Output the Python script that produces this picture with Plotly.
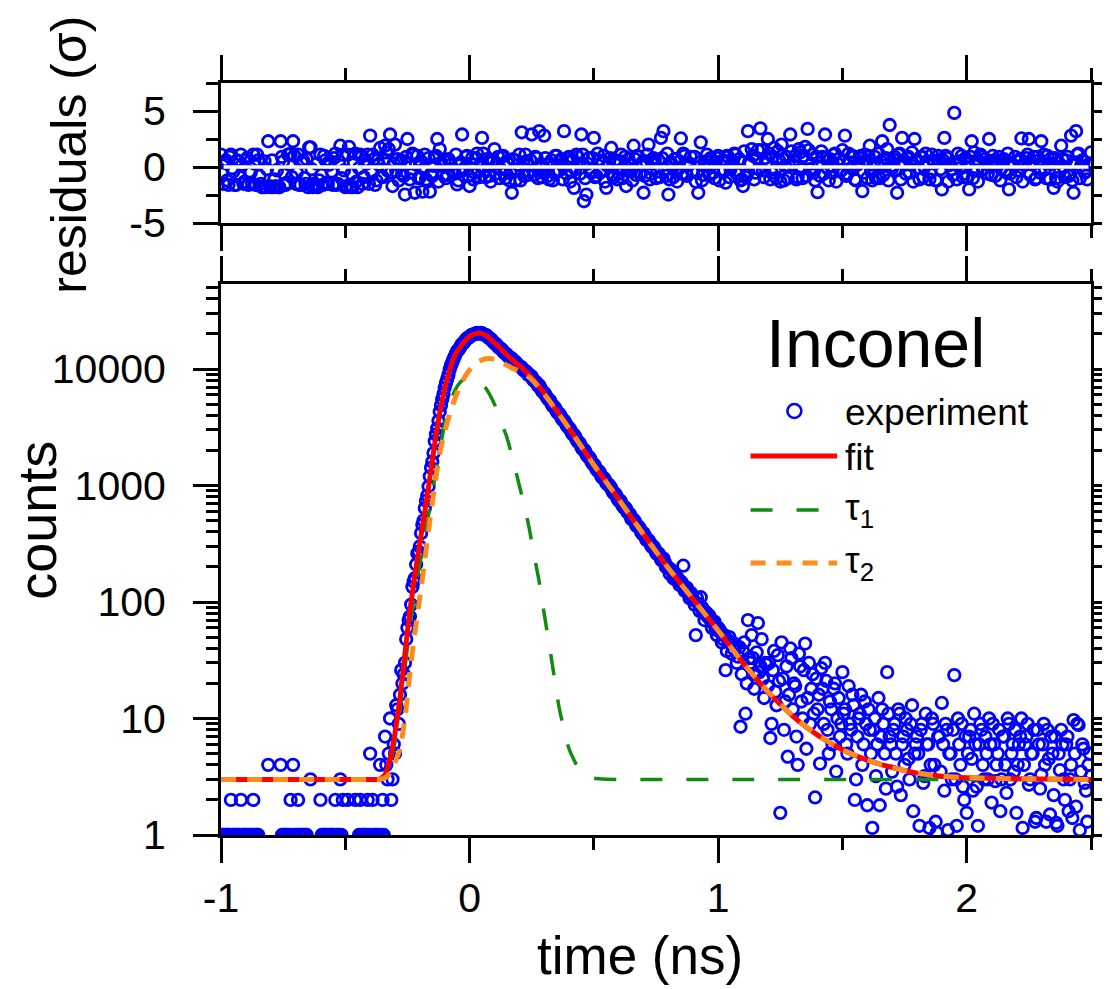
import plotly.graph_objects as go

# ---- data ----
# channels on the 10 ps grid
time_ns = [
    -1.00, -0.99, -0.98, -0.97, -0.96, -0.95, -0.94, -0.93, -0.92, -0.91,
    -0.90, -0.89, -0.88, -0.87, -0.86, -0.85, -0.84, -0.83, -0.82, -0.81,
    -0.80, -0.79, -0.78, -0.77, -0.76, -0.75, -0.74, -0.73, -0.72, -0.71,
    -0.70, -0.69, -0.68, -0.67, -0.66, -0.65, -0.64, -0.63, -0.62, -0.61,
    -0.60, -0.59, -0.58, -0.57, -0.56, -0.55, -0.54, -0.53, -0.52, -0.51,
    -0.50, -0.49, -0.48, -0.47, -0.46, -0.45, -0.44, -0.43, -0.42, -0.41,
    -0.40, -0.39, -0.38, -0.37, -0.36, -0.35, -0.34, -0.33, -0.32, -0.31,
    -0.30, -0.29, -0.28, -0.27, -0.26, -0.25, -0.24, -0.23, -0.22, -0.21,
    -0.20, -0.19, -0.18, -0.17, -0.16, -0.15, -0.14, -0.13, -0.12, -0.11,
    -0.10, -0.09, -0.08, -0.07, -0.06, -0.05, -0.04, -0.03, -0.02, -0.01,
    0.00, 0.01, 0.02, 0.03, 0.04, 0.05, 0.06, 0.07, 0.08, 0.09,
    0.10, 0.11, 0.12, 0.13, 0.14, 0.15, 0.16, 0.17, 0.18, 0.19,
    0.20, 0.21, 0.22, 0.23, 0.24, 0.25, 0.26, 0.27, 0.28, 0.29,
    0.30, 0.31, 0.32, 0.33, 0.34, 0.35, 0.36, 0.37, 0.38, 0.39,
    0.40, 0.41, 0.42, 0.43, 0.44, 0.45, 0.46, 0.47, 0.48, 0.49,
    0.50, 0.51, 0.52, 0.53, 0.54, 0.55, 0.56, 0.57, 0.58, 0.59,
    0.60, 0.61, 0.62, 0.63, 0.64, 0.65, 0.66, 0.67, 0.68, 0.69,
    0.70, 0.71, 0.72, 0.73, 0.74, 0.75, 0.76, 0.77, 0.78, 0.79,
    0.80, 0.81, 0.82, 0.83, 0.84, 0.85, 0.86, 0.87, 0.88, 0.89,
    0.90, 0.91, 0.92, 0.93, 0.94, 0.95, 0.96, 0.97, 0.98, 0.99,
    1.00, 1.01, 1.02, 1.03, 1.04, 1.05, 1.06, 1.07, 1.08, 1.09,
    1.10, 1.11, 1.12, 1.13, 1.14, 1.15, 1.16, 1.17, 1.18, 1.19,
    1.20, 1.21, 1.22, 1.23, 1.24, 1.25, 1.26, 1.27, 1.28, 1.29,
    1.30, 1.31, 1.32, 1.33, 1.34, 1.35, 1.36, 1.37, 1.38, 1.39,
    1.40, 1.41, 1.42, 1.43, 1.44, 1.45, 1.46, 1.47, 1.48, 1.49,
    1.50, 1.51, 1.52, 1.53, 1.54, 1.55, 1.56, 1.57, 1.58, 1.59,
    1.60, 1.61, 1.62, 1.63, 1.64, 1.65, 1.66, 1.67, 1.68, 1.69,
    1.70, 1.71, 1.72, 1.73, 1.74, 1.75, 1.76, 1.77, 1.78, 1.79,
    1.80, 1.81, 1.82, 1.83, 1.84, 1.85, 1.86, 1.87, 1.88, 1.89,
    1.90, 1.91, 1.92, 1.93, 1.94, 1.95, 1.96, 1.97, 1.98, 1.99,
    2.00, 2.01, 2.02, 2.03, 2.04, 2.05, 2.06, 2.07, 2.08, 2.09,
    2.10, 2.11, 2.12, 2.13, 2.14, 2.15, 2.16, 2.17, 2.18, 2.19,
    2.20, 2.21, 2.22, 2.23, 2.24, 2.25, 2.26, 2.27, 2.28, 2.29,
    2.30, 2.31, 2.32, 2.33, 2.34, 2.35, 2.36, 2.37, 2.38, 2.39,
    2.40, 2.41, 2.42, 2.43, 2.44, 2.45, 2.46, 2.47, 2.48, 2.49,
    2.50,
]

counts = [
    1, 1, 1, 1, 2, 1, 1, 1, 2, 1,
    1, 1, 1, 2, 1, 1, 0, 0, 0, 4,
    0, 0, 0, 0, 4, 1, 1, 1, 2, 4,
    1, 2, 1, 1, 1, 0, 3, 0, 0, 0,
    2, 1, 1, 1, 1, 1, 2, 1, 3, 2,
    0, 2, 0, 0, 2, 0, 2, 1, 1, 2,
    5, 2, 1, 1, 4, 2, 7, 3, 10, 3,
    5, 12, 16, 20, 30, 60, 75, 135, 160, 260,
    300, 460, 640, 820, 1200, 1600, 2400, 3100, 4300, 5500,
    6900, 8200, 9900, 11300, 12800, 14300, 15100, 16500, 17200, 18400,
    18900, 19700, 19900, 20400, 20100, 20300, 19700, 19300, 18300, 17700,
    16700, 16100, 15200, 14700, 13800, 13300, 12600, 12300, 11500, 11200,
    10600, 10300, 9700, 9400, 8800, 8600, 7900, 7600, 7250, 6550,
    6250, 5750, 5450, 5000, 4750, 4350, 4150, 3800, 3620, 3300,
    3130, 2860, 2720, 2470, 2350, 2120, 2040, 1840, 1760, 1600,
    1520, 1380, 1330, 1200, 1160, 1050, 1020, 950, 860, 830,
    740, 720, 650, 630, 580, 520, 510, 455, 445, 400,
    390, 345, 340, 305, 300, 265, 262, 232, 236, 200,
    198, 190, 160, 165, 150, 150, 205, 128, 118, 120,
    104, 52, 97, 110, 80, 82, 74, 70, 66, 58,
    60, 55, 48, 26, 47, 44, 40, 42, 34, 8.5,
    38, 11, 70, 30, 33, 24, 66, 28, 22, 30,
    19, 6.8, 26, 17, 35, 1.55, 22, 14, 4.7, 40,
    12, 19, 4.0, 28, 10, 44, 15, 9, 24, 2.1,
    12, 4.1, 18, 30, 8, 14, 6, 20, 10, 7,
    25, 12, 5, 9, 16, 2, 7, 11, 4, 14,
    1.8, 8, 1.15, 10, 6, 1.8, 12, 5, 25, 7,
    3.5, 9, 2.6, 11, 6, 4, 8, 3, 13, 5,
    7, 1.2, 9, 3.2, 6, 1.15, 10, 4, 1.05, 7,
    13.6, 2.4, 8, 5, 3, 23.6, 1.2, 6, 9, 2,
    1.55, 7, 4.5, 11, 2.6, 6, 8, 3, 5, 10,
    1.9, 6, 4, 8, 3, 7, 2.3, 9, 5, 3.5,
    1.55, 6, 10, 4, 7, 2.7, 5, 8, 1.4, 6,
    3.3, 9, 1.3, 4.5, 7, 2.2, 1.27, 5, 8, 3,
    6, 1.6, 4, 9.7, 1.75, 8.8, 3.5, 5.5, 2.4, 4,
    3.2,
]

residuals = [
    1.1, -1.5, 0.6, -1.6, 1.1, -0.4, -1.6, 0.5, 1.1, -1.5,
    0.6, -1.6, -0.5, 1.1, -1.6, 0.6, -1.5, -1.8, -1.8, 2.3,
    -1.8, -1.8, -1.7, -1.8, 2.3, 0.5, -1.6, 1.1, 1.2, 2.3,
    -1.5, 1.1, -1.6, 0.6, -1.5, -1.8, 1.75, -1.8, -1.7, -1.8,
    1.1, -1.6, 0.6, -1.5, 0.5, -1.6, 1.2, -1.5, 1.9, 1.1,
    -1.8, 1.1, -1.8, -1.8, 1.2, -1.8, 1.1, -1.5, 0.6, 1.1,
    2.8, 1.1, -1.6, 0.6, 1.7, -0.9, 1.9, -0.3, 2.9, -1.7,
    2.0, 0.7, 0.4, -0.6, -2.46, 2.5, -1.1, 1.2, -2.3, 1.0,
    -0.9, -2.2, 1.1, -1.3, -2.2, -0.8, 0.9, 2.5, 1.6, 0.1,
    0.6, -0.7, 0.5, -0.3, -0.6, -1.56, -0.4, 2.9, -0.1, 1.0,
    -1.7, 0.8, -0.5, 1.2, -0.9, 2.6, -0.3, 0.7, -0.8, 0.4,
    1.6, 0.3, -1.0, 0.9, -0.6, 0.5, -1.2, -2.3, 0.6, -0.2,
    1.1, 3.1, -0.8, 0.5, -0.4, 2.9, -0.7, 0.8, 3.2, -0.9,
    2.8, 0.2, -1.1, 0.6, -0.5, 1.0, -0.3, 0.7, 3.2, -0.6,
    0.9, -0.4, -1.86, 1.1, 0.3, 2.9, -3.06, -2.46, 0.8, -0.5,
    2.6, -0.8, 0.6, -0.3, 1.0, -1.86, 0.4, 1.7, -0.9, 0.5,
    -0.6, 1.1, -0.2, -1.7, 0.7, -0.4, 1.9, -0.7, 0.9, 0.1,
    -2.3, 0.5, 2.0, -0.6, 0.8, -1.0, 0.6, 2.6, 3.2, -0.8,
    -2.46, 0.4, -0.9, 0.7, -0.2, 2.55, 1.2, -0.6, 0.3, 0.9,
    -0.4, -1.3, -2.3, 2.2, -0.7, 0.5, 0.1, 0.8, -0.5, 0.4,
    1.0, -0.3, 0.6, -1.4, 0.9, -0.2, 0.5, 1.1, -0.6, -1.2,
    -1.7, -0.9, 3.2, 0.3, 1.0, -0.5, 1.5, 3.45, -0.3, 0.8,
    2.5, -1.1, 0.9, -0.2, 1.4, -1.3, 0.7, 0.1, -1.0, 2.9,
    0.2, 1.0, -0.9, 1.3, -1.0, 1.8, 3.4, -0.2, 1.1, -1.2,
    -2.25, -0.8, 0.9, 2.9, -0.1, 0.7, -0.5, 1.2, 0.3, -0.4,
    1.5, 2.8, -0.6, 0.4, 1.0, -1.1, 0.2, 0.8, -2.16, 1.1,
    -1.0, 1.9, -1.2, 0.9, 0.3, -1.0, 2.3, 0.1, 1.6, 3.75,
    -0.1, 0.9, -2.3, 1.2, 2.6, 0.2, 0.8, -0.5, 1.3, 2.5,
    0.6, -1.1, 0.9, 0.0, 0.5, -1.1, 1.1, 0.3, -1.2, 0.6,
    -2.0, 2.6, 0.8, 0.2, -0.2, 4.83, -1.1, 0.5, 1.0, -0.6,
    -0.9, -2.0, 2.3, 1.3, -0.3, 0.5, 0.9, -0.1, 0.4, 2.5,
    -0.7, 0.6, 0.2, 0.9, -0.1, 0.7, -0.5, -2.0, 0.3, 0.1,
    -0.9, 0.5, 2.55, 0.2, 0.8, 2.5, 0.4, 0.9, -1.0, 0.6,
    2.3, 1.1, -1.0, 0.3, 0.8, -1.86, -1.0, 0.4, 1.9, 0.0,
    0.6, -0.8, 2.8, -2.3, 3.2, 1.2, 0.1, 0.5, -0.4, 0.2,
    1.3,
]

# the channels in between (5 ps offset)
time_half = [
    -0.995, -0.985, -0.975, -0.965, -0.955, -0.945, -0.935, -0.925, -0.915, -0.905,
    -0.895, -0.885, -0.875, -0.865, -0.855, -0.845, -0.835, -0.825, -0.815, -0.805,
    -0.795, -0.785, -0.775, -0.765, -0.755, -0.745, -0.735, -0.725, -0.715, -0.705,
    -0.695, -0.685, -0.675, -0.665, -0.655, -0.645, -0.635, -0.625, -0.615, -0.605,
    -0.595, -0.585, -0.575, -0.565, -0.555, -0.545, -0.535, -0.525, -0.515, -0.505,
    -0.495, -0.485, -0.475, -0.465, -0.455, -0.445, -0.435, -0.425, -0.415, -0.405,
    -0.395, -0.385, -0.375, -0.365, -0.355, -0.345, -0.335, -0.325, -0.315, -0.305,
    -0.295, -0.285, -0.275, -0.265, -0.255, -0.245, -0.235, -0.225, -0.215, -0.205,
    -0.195, -0.185, -0.175, -0.165, -0.155, -0.145, -0.135, -0.125, -0.115, -0.105,
    -0.095, -0.085, -0.075, -0.065, -0.055, -0.045, -0.035, -0.025, -0.015, -0.005,
    0.005, 0.015, 0.025, 0.035, 0.045, 0.055, 0.065, 0.075, 0.085, 0.095,
    0.105, 0.115, 0.125, 0.135, 0.145, 0.155, 0.165, 0.175, 0.185, 0.195,
    0.205, 0.215, 0.225, 0.235, 0.245, 0.255, 0.265, 0.275, 0.285, 0.295,
    0.305, 0.315, 0.325, 0.335, 0.345, 0.355, 0.365, 0.375, 0.385, 0.395,
    0.405, 0.415, 0.425, 0.435, 0.445, 0.455, 0.465, 0.475, 0.485, 0.495,
    0.505, 0.515, 0.525, 0.535, 0.545, 0.555, 0.565, 0.575, 0.585, 0.595,
    0.605, 0.615, 0.625, 0.635, 0.645, 0.655, 0.665, 0.675, 0.685, 0.695,
    0.705, 0.715, 0.725, 0.735, 0.745, 0.755, 0.765, 0.775, 0.785, 0.795,
    0.805, 0.815, 0.825, 0.835, 0.845, 0.855, 0.865, 0.875, 0.885, 0.895,
    0.905, 0.915, 0.925, 0.935, 0.945, 0.955, 0.965, 0.975, 0.985, 0.995,
    1.005, 1.015, 1.025, 1.035, 1.045, 1.055, 1.065, 1.075, 1.085, 1.095,
    1.105, 1.115, 1.125, 1.135, 1.145, 1.155, 1.165, 1.175, 1.185, 1.195,
    1.205, 1.215, 1.225, 1.235, 1.245, 1.255, 1.265, 1.275, 1.285, 1.295,
    1.305, 1.315, 1.325, 1.335, 1.345, 1.355, 1.365, 1.375, 1.385, 1.395,
    1.405, 1.415, 1.425, 1.435, 1.445, 1.455, 1.465, 1.475, 1.485, 1.495,
    1.505, 1.515, 1.525, 1.535, 1.545, 1.555, 1.565, 1.575, 1.585, 1.595,
    1.605, 1.615, 1.625, 1.635, 1.645, 1.655, 1.665, 1.675, 1.685, 1.695,
    1.705, 1.715, 1.725, 1.735, 1.745, 1.755, 1.765, 1.775, 1.785, 1.795,
    1.805, 1.815, 1.825, 1.835, 1.845, 1.855, 1.865, 1.875, 1.885, 1.895,
    1.905, 1.915, 1.925, 1.935, 1.945, 1.955, 1.965, 1.975, 1.985, 1.995,
    2.005, 2.015, 2.025, 2.035, 2.045, 2.055, 2.065, 2.075, 2.085, 2.095,
    2.105, 2.115, 2.125, 2.135, 2.145, 2.155, 2.165, 2.175, 2.185, 2.195,
    2.205, 2.215, 2.225, 2.235, 2.245, 2.255, 2.265, 2.275, 2.285, 2.295,
    2.305, 2.315, 2.325, 2.335, 2.345, 2.355, 2.365, 2.375, 2.385, 2.395,
    2.405, 2.415, 2.425, 2.435, 2.445, 2.455, 2.465, 2.475, 2.485, 2.495,
]

counts_half = [
    1, 1, 1, 1, 1, 1, 1, 1, 1, 1,
    1, 1, 1, 1, 1, 0, 0, 0, 0, 0,
    0, 0, 0, 0, 1, 1, 1, 1, 1, 1,
    1, 1, 1, 1, 1, 0, 0, 0, 0, 0,
    1, 1, 1, 1, 1, 1, 1, 1, 1, 0,
    0, 0, 0, 0, 0, 1, 1, 1, 1, 1,
    1, 1, 1, 1, 1, 1, 4, 5, 2, 6,
    13, 9, 26, 24, 48, 70, 95, 150, 210, 270,
    390, 500, 740, 980, 1420, 1900, 2750, 3600, 4900, 6100,
    7600, 8900, 10700, 12100, 13600, 14600, 15900, 16700, 17900, 18500,
    19400, 19700, 20200, 20200, 20400, 19900, 19600, 18700, 18100, 17100,
    16500, 15500, 15000, 14100, 13600, 12800, 12500, 11800, 11500, 10800,
    10500, 9900, 9600, 9000, 8800, 8150, 7800, 7200, 6900, 6350,
    6050, 5550, 5300, 4800, 4600, 4200, 4000, 3650, 3480, 3180,
    3020, 2760, 2630, 2380, 2270, 2050, 1970, 1780, 1700, 1540,
    1470, 1340, 1280, 1160, 1120, 1020, 980, 890, 850, 770,
    745, 675, 650, 590, 565, 510, 492, 445, 428, 385,
    372, 338, 326, 296, 286, 258, 250, 226, 219, 198,
    175, 182, 158, 162, 140, 145, 125, 132, 108, 112,
    95, 108, 84, 90, 70, 80, 76, 60, 68, 52,
    58, 45, 52, 38, 50, 36, 44, 30, 41, 24,
    45, 20, 33, 52, 18, 37, 25, 48, 15, 29,
    30, 9, 38, 13, 21, 45, 8, 28, 16, 33,
    20, 7, 36, 14, 26, 5.5, 30, 18, 11, 22,
    16, 27, 9, 21, 5, 12, 18, 3.5, 15, 9,
    11, 6, 19, 8, 13, 3, 10, 16, 6, 9,
    12, 5, 8, 3.2, 15, 7, 9, 2.5, 11, 6,
    8, 5, 12, 2.2, 7, 10, 4.5, 9, 1.6, 6,
    5, 8, 2.8, 11, 6, 4, 9, 1.3, 7, 3.5,
    6, 9, 1.1, 5, 8, 3, 10, 4, 2.6, 7,
    5, 8, 2.4, 6, 1.2, 9, 4, 7, 3, 6,
    9, 2.9, 5, 1.6, 7, 4, 10, 3, 6, 8,
    4, 7, 1.15, 6, 9, 3, 5, 1.3, 8, 2.5,
    6, 4, 8, 1.5, 5, 7, 1.2, 3.6, 6, 2,
    7, 3, 1.4, 5, 9, 1.1, 6, 2.8, 1.3, 5,
]

residuals_half = [
    -0.6, 0.4, -1.2, 0.9, -0.1, -1.6, 0.6, -0.9, 0.2, -1.3,
    0.8, -0.4, -1.5, 0.3, 1.1, -0.8, -1.8, 0.5, -0.2, -1.7,
    0.6, -1.1, -0.3, -1.8, 0.9, -0.6, -1.4, 0.2, -0.9, 1.0,
    -0.5, -1.6, 0.4, -1.0, 0.7, 1.75, -0.2, -1.5, 0.3, -1.2,
    -0.7, 1.0, -1.4, 0.2, -0.4, 0.8, -1.6, 0.5, -1.0, -0.3,
    -1.7, 1.8, -0.6, 0.4, -1.3, -0.1, 0.9, -0.9, 0.3, -1.5,
    -0.4, 0.7, -1.2, 0.2, -0.8, 0.6, 1.3, 1.6, -0.5, 0.3,
    -0.4, -1.2, 0.6, -0.8, 0.9, 0.3, -0.5, 1.1, 0.2, -1.0,
    0.5, -0.2, -1.1, 0.8, -0.6, 0.1, 1.0, -1.3, 0.4, -0.7,
    -1.0, 0.7, 0.2, -0.5, 1.1, -1.2, 0.4, -0.3, 0.9, -0.8,
    0.3, -1.1, 0.8, -0.4, 0.1, 1.2, -0.9, 0.5, -1.3, 0.6,
    -0.6, 0.9, -0.2, 1.0, -1.0, 0.3, -0.5, 0.7, -1.2, 0.2,
    -1.2, 0.4, 1.1, -0.7, 0.6, -0.3, 0.9, -1.0, 0.2, -0.5,
    0.8, -0.8, 0.3, -1.2, 1.0, -0.4, 0.5, -1.1, 0.1, 0.7,
    -1.3, 0.6, -0.2, 0.9, -0.6, 1.1, -1.0, 0.3, -0.4, 0.8,
    -0.9, 1.2, -0.5, 0.4, -1.3, 0.1, 0.8, -0.7, 0.6, -1.1,
    0.5, -1.0, 0.9, -0.3, 0.2, -1.2, 0.7, 1.0, -0.6, 0.4,
    -0.8, 1.1, -1.1, 0.3, 0.6, -0.4, -0.9, 0.8, -0.2, 1.2,
    -1.1, 0.2, 0.7, -1.3, 0.5, -0.6, 1.0, -0.8, 0.3, -0.4,
    0.9, -0.5, 0.4, -1.2, 0.1, 1.1, -0.7, 0.6, -1.0, 0.8,
    -1.2, 0.5, -0.3, 1.0, -0.9, 0.2, 1.2, -0.6, 0.7, -1.1,
    1.4, -0.7, 0.4, 1.6, -1.1, 0.8, -0.2, 1.5, -0.9, 0.3,
    1.2, -0.5, 1.7, -1.0, 0.6, 2.0, -1.2, 0.9, 0.1, 1.4,
    0.6, -1.1, 1.6, -0.2, 1.0, -0.8, 1.5, 0.3, -0.5, 0.9,
    0.4, 1.4, -0.6, 0.8, -1.2, 0.1, 1.1, -1.3, 0.7, -0.3,
    0.5, -0.8, 1.2, -0.1, 0.9, -1.2, 0.3, 1.0, -0.5, 0.6,
    1.0, -0.4, 0.2, -1.0, 1.2, 0.5, -0.7, 0.8, -1.2, 0.1,
    0.7, -0.3, 1.1, -1.1, 0.4, -0.6, 0.9, 0.2, -1.3, 0.5,
    -0.1, 0.9, -0.9, 1.2, 0.3, -0.5, 0.6, -1.2, 1.0, -0.2,
    0.6, 1.0, -1.3, 0.2, -0.7, 0.4, 1.2, -0.1, -0.9, 0.8,
    0.3, 0.9, -1.0, 0.5, -1.3, 1.1, -0.2, 0.7, -0.6, 0.1,
    1.0, -0.8, 0.4, -1.2, 0.6, -0.3, 1.2, -0.6, 0.2, 0.9,
    -0.3, 0.7, -1.3, 0.4, 1.1, -0.7, 0.2, -1.1, 0.9, -0.5,
    0.5, -0.2, 1.0, -1.1, 0.3, 0.8, -1.3, -0.4, 0.7, -0.9,
    0.9, -0.6, -1.2, 0.4, 1.1, -1.0, 0.6, -0.5, -1.1, 0.3,
]

# fitted curves
curve_t = [
    -1.0, -0.6, -0.38, -0.36, -0.34, -0.32, -0.30, -0.28, -0.26, -0.24,
    -0.22, -0.20, -0.18, -0.16, -0.14, -0.12, -0.10, -0.08, -0.06, -0.04,
    -0.02, 0.0, 0.02, 0.04, 0.06, 0.08, 0.10, 0.12, 0.15, 0.18,
    0.20, 0.22, 0.24, 0.26, 0.28, 0.30, 0.33, 0.36, 0.40, 0.45,
    0.50, 0.55, 0.60, 0.70, 0.80, 0.90, 1.00, 1.10, 1.20, 1.30,
    1.40, 1.50, 1.60, 1.70, 1.80, 1.90, 2.00, 2.20, 2.50,
]
fit_counts = [
    3, 3, 3, 3.02, 3.3, 4.5, 7.5, 15, 36, 85,
    170, 320, 600, 1150, 2300, 4200, 6800, 9800, 13000, 15200,
    17300, 19000, 20000, 20300, 19800, 18400, 16800, 15300, 13200, 11600,
    10700, 9800, 8900, 7980, 7040, 6200, 5040, 4100, 3100, 2160,
    1500, 1070, 760, 380, 195, 105, 57, 30, 17, 10.5,
    7.2, 5.4, 4.4, 3.8, 3.4, 3.2, 3.1, 3.04, 3.0,
]
tau1_counts = [
    3, 3, 3, 3.01, 3.2, 4.0, 6.3, 12, 27, 60,
    120, 215, 370, 640, 1150, 2000, 3400, 5000, 6500, 7600,
    8300, 8600, 8400, 7900, 7100, 6100, 5000, 3850, 2600, 1500,
    1000, 680, 430, 250, 150, 80, 32, 12.5, 5.5, 3.4,
    3.08, 3.01, 3, 3, 3, 3, 3, 3, 3, 3,
    3, 3, 3, 3, 3, 3, 3, 3, 3,
]
tau2_counts = [
    3, 3, 3, 3.01, 3.1, 3.4, 4.2, 5.5, 10, 25,
    55, 110, 230, 500, 1000, 1900, 2900, 4100, 5500, 7000,
    8500, 9800, 10900, 11700, 12200, 12300, 12100, 11600, 10800, 10000,
    9600, 9100, 8500, 7750, 6900, 6120, 5010, 4090, 3097, 2160,
    1500, 1070, 760, 380, 195, 105, 57, 30, 17, 10.5,
    7.2, 5.4, 4.4, 3.8, 3.4, 3.2, 3.1, 3.04, 3.0,
]

assert len(time_ns) == len(counts) == len(residuals)
assert len(time_half) == len(counts_half) == len(residuals_half)
assert len(curve_t) == len(fit_counts) == len(tau1_counts) == len(tau2_counts)

all_t = time_ns + time_half
all_counts = counts + counts_half
all_resid = residuals + residuals_half

BLUE = "#0000FF"
RED = "#FF0000"
GREEN = "#138A13"
ORANGE = "#FF8C1A"
FONT = "Liberation Sans, Arial, sans-serif"

# the page keeps an 8 px body margin; helpers below take window pixel positions
W, H = 1102, 981
L, R, T, B = 213, 7, 75, 154
PAGE = 8
PLOT_W = 874   # drawn width of the frame, window pixels 221..1095


def px_x(px):
    return (px - PAGE - L) / PLOT_W


def px_y(py):
    return (H - B - (py - PAGE)) / (H - T - B)


marker = dict(symbol="circle-open", size=11.5, color=BLUE, line=dict(width=2.8))
ghost = dict(mode="markers", marker=dict(opacity=0), hoverinfo="skip", showlegend=False)

fig = go.Figure()
fig.add_trace(go.Scatter(x=all_t, y=all_resid, mode="markers", marker=marker,
                         xaxis="x2", yaxis="y2", name="residuals"))
fig.add_trace(go.Scatter(x=all_t, y=all_counts, mode="markers", marker=marker,
                         xaxis="x", yaxis="y", name="experiment"))
fig.add_trace(go.Scatter(x=curve_t, y=tau1_counts, mode="lines", name="τ1",
                         line=dict(color=GREEN, width=3.5, dash="22px,24px",
                                   shape="spline", smoothing=0.5)))
fig.add_trace(go.Scatter(x=curve_t, y=fit_counts, mode="lines", name="fit",
                         line=dict(color=RED, width=5, shape="spline", smoothing=0.5)))
fig.add_trace(go.Scatter(x=curve_t, y=tau2_counts, mode="lines", name="τ2",
                         line=dict(color=ORANGE, width=5, dash="15px,11px",
                                   shape="spline", smoothing=0.5)))
# carriers for the short right-hand tick axes
fig.add_trace(go.Scatter(x=all_t, y=all_counts, xaxis="x", yaxis="y3", **ghost))
fig.add_trace(go.Scatter(x=all_t, y=all_resid, xaxis="x2", yaxis="y4", **ghost))

tick_style = dict(
    showline=True, linecolor="black", linewidth=3,
    ticks="outside", ticklen=25, tickwidth=3, tickcolor="black",
    showgrid=False, zeroline=False,
    tickfont=dict(family=FONT, size=41, color="black"),
)
minor_style = dict(ticks="outside", ticklen=12, tickwidth=3, tickcolor="black", showgrid=False)
short_style = dict(ticks="outside", ticklen=12, tickwidth=3, tickcolor="black",
                   showgrid=False, zeroline=False, showline=False, showticklabels=False)

x_ticks = dict(tickmode="array", tickvals=[-1, 0, 1, 2], ticktext=["-1", "0", "1", "2"],
               minor=dict(tickmode="array", tickvals=[-0.5, 0.5, 1.5, 2.5], **minor_style))
r_ticks = dict(tickmode="array", tickvals=[-5, 0, 5], ticktext=["-5", "0", "5"],
               minor=dict(tickmode="array", tickvals=[-2.5, 2.5, 7.5], **minor_style))

fig.update_layout(
    width=W, height=H, autosize=False,
    margin=dict(l=L, r=R, t=T, b=B),
    paper_bgcolor="white", plot_bgcolor="white",
    showlegend=False,
    font=dict(family=FONT, color="black"),
    xaxis=dict(domain=[0, 1], anchor="y", range=[-1, 2.5], mirror="ticks",
               ticklabelstandoff=0, **x_ticks, **tick_style),
    xaxis2=dict(domain=[0, 1], anchor="y2", matches="x", range=[-1, 2.5], mirror="ticks",
                showticklabels=False, **x_ticks, **tick_style),
    yaxis=dict(domain=[0, px_y(284)], anchor="x", type="log", range=[0, 4.73],
               dtick=1, tickformat="d", mirror=True, ticklabelstandoff=19,
               minor=dict(dtick="D1", **minor_style), **tick_style),
    yaxis2=dict(domain=[px_y(223), 1], anchor="x2", range=[-5, 7.5],
                mirror=True, ticklabelstandoff=19, **r_ticks, **tick_style),
    yaxis3=dict(overlaying="y", anchor="x", side="right", type="log", range=[0, 4.73],
                dtick=1, minor=dict(dtick="D1", **minor_style), **short_style),
    yaxis4=dict(overlaying="y2", anchor="x2", side="right", range=[-5, 7.5],
                tickmode="array", tickvals=[-5, 0, 5],
                minor=dict(tickmode="array", tickvals=[-2.5, 2.5, 7.5], **minor_style),
                **short_style),
)

# white zero line through the residual band
fig.add_shape(type="line", xref="paper", yref="y2", x0=0.003, x1=0.997, y0=0, y1=0,
              line=dict(color="white", width=3.5), layer="above")

# axis titles
title_kw = dict(xref="paper", yref="paper", showarrow=False, xanchor="center", yanchor="middle")
fig.add_annotation(text="residuals (σ)", x=px_x(68), y=px_y(155), textangle=-90,
                   font=dict(size=50), **title_kw)
fig.add_annotation(text="counts", x=px_x(36), y=px_y(520), textangle=-90, height=48,
                   font=dict(size=54), **title_kw)
fig.add_annotation(text="time (ns)", x=px_x(642), y=px_y(955), font=dict(size=53), **title_kw)

# sample label and legend
fig.add_annotation(text="Inconel", x=px_x(879), y=px_y(343), font=dict(size=68), **title_kw)
legend_rows = [("experiment", 412), ("fit", 457), ("τ<sub>1</sub>", 510), ("τ<sub>2</sub>", 563)]
for label, py in legend_rows:
    fig.add_annotation(text=label, x=px_x(846), y=px_y(py), xref="paper", yref="paper",
                       xanchor="left", yanchor="middle", showarrow=False, font=dict(size=37))

fig.add_shape(type="circle", xref="paper", yref="paper",
              x0=px_x(790), x1=px_x(804), y0=px_y(418), y1=px_y(404),
              line=dict(color=BLUE, width=2.6))
fig.add_shape(type="line", xref="paper", yref="paper", x0=px_x(753), x1=px_x(840),
              y0=px_y(456), y1=px_y(456), line=dict(color=RED, width=5))
fig.add_shape(type="line", xref="paper", yref="paper", x0=px_x(753), x1=px_x(822),
              y0=px_y(510), y1=px_y(510), line=dict(color=GREEN, width=3.5, dash="22px,24px"))
fig.add_shape(type="line", xref="paper", yref="paper", x0=px_x(753), x1=px_x(840),
              y0=px_y(563), y1=px_y(563), line=dict(color=ORANGE, width=5, dash="15px,11px"))

fig.write_html("out.html")
